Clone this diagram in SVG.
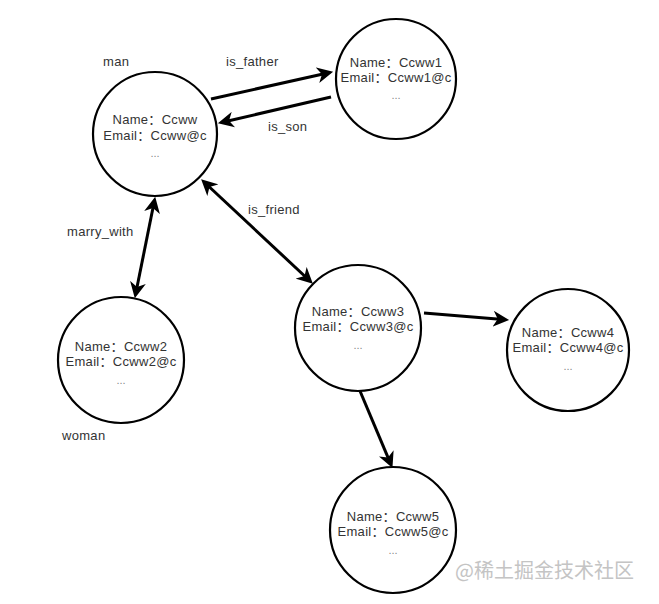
<svg xmlns="http://www.w3.org/2000/svg" width="659" height="604" viewBox="0 0 659 604">
<style>
.node circle{fill:#fff;stroke:#000;stroke-width:2.2}
.t{font-family:"Liberation Sans","Noto Sans CJK SC",Arial,sans-serif;font-size:13px;letter-spacing:0.3px;fill:#333;text-anchor:middle}
.d{font-family:"Liberation Sans",Arial,sans-serif;font-size:11px;fill:#888;text-anchor:middle}
.lbl{font-family:"Liberation Sans",Arial,sans-serif;font-size:13px;letter-spacing:0.3px;fill:#333}
.edge{fill:none;stroke:#000;stroke-width:3}
.wm{font-family:"Noto Sans CJK SC","Liberation Sans",sans-serif;font-size:20px;fill:#c4c4c4}
</style>
<defs>
<marker id="ah" markerUnits="userSpaceOnUse" markerWidth="16" markerHeight="16" refX="6" refY="7" orient="auto-start-reverse" viewBox="0 0 14 14">
<path d="M0,0 L14,7 L0,14 L4,7 Z" fill="#000"/>
</marker>
</defs>
<rect width="659" height="604" fill="#fff"/>
<g id="connectors">
<line class="edge" x1="211" y1="99" x2="324.2" y2="73.7" marker-end="url(#ah)"/>
<line class="edge" x1="331" y1="97" x2="226.8" y2="121.2" marker-end="url(#ah)"/>
<line class="edge" x1="153.4" y1="205.8" x2="136.6" y2="289.2" marker-start="url(#ah)" marker-end="url(#ah)"/>
<line class="edge" x1="207.8" y1="185.5" x2="306.2" y2="277.5" marker-start="url(#ah)" marker-end="url(#ah)"/>
<line class="edge" x1="424" y1="313" x2="500" y2="319.3" marker-end="url(#ah)"/>
<line class="edge" x1="360" y1="391" x2="388.9" y2="459.6" marker-end="url(#ah)"/>
</g>
<g id="labels">
<text class="lbl" x="103" y="66">man</text>
<text class="lbl" x="226" y="66">is_father</text>
<text class="lbl" x="268" y="131">is_son</text>
<text class="lbl" x="248" y="214">is_friend</text>
<text class="lbl" x="67" y="236">marry_with</text>
<text class="lbl" x="62" y="440">woman</text>
</g>
<g id="node-ccww" class="node">
<circle cx="155" cy="134" r="62"/>
<text class="t" x="155" y="124">Name：Ccww</text>
<text class="t" x="155" y="140">Email：Ccww@c</text>
<text class="d" x="155" y="157">...</text>
</g>
<g id="node-ccww1" class="node">
<circle cx="396" cy="79" r="60"/>
<text class="t" x="396" y="67">Name：Ccww1</text>
<text class="t" x="396" y="82">Email：Ccww1@c</text>
<text class="d" x="396" y="99">...</text>
</g>
<g id="node-ccww2" class="node">
<circle cx="121" cy="360" r="63"/>
<text class="t" x="121" y="351">Name：Ccww2</text>
<text class="t" x="121" y="366">Email：Ccww2@c</text>
<text class="d" x="121" y="384">...</text>
</g>
<g id="node-ccww3" class="node">
<circle cx="358" cy="328" r="63"/>
<text class="t" x="358" y="316">Name：Ccww3</text>
<text class="t" x="358" y="331">Email：Ccww3@c</text>
<text class="d" x="358" y="349">...</text>
</g>
<g id="node-ccww4" class="node">
<circle cx="568" cy="350" r="61"/>
<text class="t" x="568" y="337">Name：Ccww4</text>
<text class="t" x="568" y="352">Email：Ccww4@c</text>
<text class="d" x="568" y="370">...</text>
</g>
<g id="node-ccww5" class="node">
<circle cx="393" cy="530" r="63"/>
<text class="t" x="393" y="521">Name：Ccww5</text>
<text class="t" x="393" y="536">Email：Ccww5@c</text>
<text class="d" x="393" y="554">...</text>
</g>
<text class="wm" x="455" y="578">@稀土掘金技术社区</text>
</svg>
